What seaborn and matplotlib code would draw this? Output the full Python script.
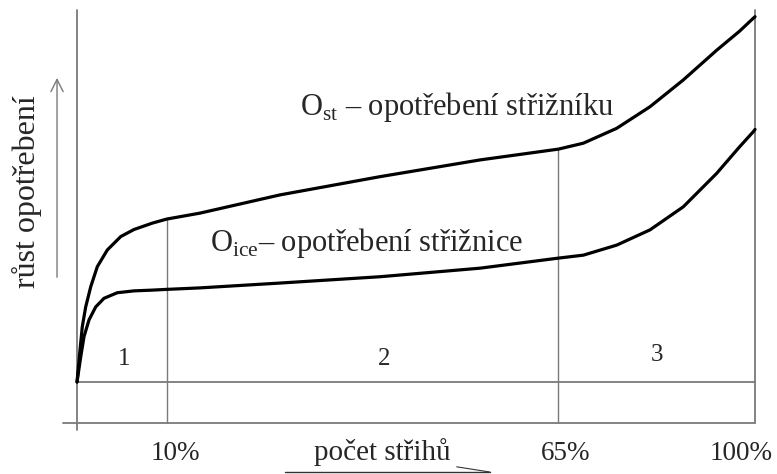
import matplotlib
matplotlib.use("Agg")
import matplotlib.pyplot as plt
import seaborn as sns
import numpy as np
import pandas as pd

# poloha na ose x (0 = počátek, 100 = konec osy)
x_st = [0, 0.44, 0.78, 1.28, 2.02, 2.99, 4.47, 6.45, 8.41, 11.09, 13.23, 18.14,
        29.94, 44.69, 59.44, 70.99, 74.68, 79.60, 84.51, 89.42, 94.35, 97.71,
        99.75, 100]
y_st = [0, 8.6, 14.9, 20.2, 25.6, 31.0, 35.5, 39.1, 41.0, 42.7, 43.8, 45.4,
        50.3, 55.2, 59.7, 62.6, 64.2, 68.2, 74.0, 81.2, 89.2, 94.3,
        97.8, 98.2]

x_ice = [0, 0.55, 1.03, 1.77, 2.76, 3.98, 5.94, 8.41, 11.09, 13.23, 18.14,
         29.94, 44.69, 59.44, 70.99, 74.68, 79.60, 84.51, 89.42, 94.35, 97.71,
         99.75, 100]
y_ice = [0, 6.8, 12.2, 16.7, 20.2, 22.5, 24.0, 24.5, 24.7, 24.9, 25.3,
         26.6, 28.3, 30.6, 33.3, 34.1, 36.8, 40.9, 47.1, 56.1, 63.2,
         67.3, 67.9]

# hranice oblastí a popisky
hranice = [13.23, 70.99, 100]
hranice_top = [43.8, 62.6, 100]
tick_pos = [14.5, 72.0, 98.0]
tick_labels = ["10%", "65%", "100%"]
oblasti = ["1", "2", "3"]
oblasti_x = [6.9, 45.3, 85.5]
oblasti_y = [6.2, 6.2, 7.3]

df = pd.concat([
    pd.DataFrame({"x": x_st, "y": y_st, "krivka": "st"}),
    pd.DataFrame({"x": x_ice, "y": y_ice, "krivka": "ice"}),
])

sns.set_theme(style="white")
plt.rcParams["font.family"] = ["Liberation Serif", "DejaVu Serif"]
plt.rcParams["mathtext.fontset"] = "custom"
plt.rcParams["mathtext.rm"] = "Liberation Serif"

fig = plt.figure(figsize=(7.77, 4.74), dpi=100)
ax = fig.add_axes([0, 0, 1, 1])
ax.set_xlim(-11.36, 103.24)
ax.set_ylim(-24.73, 102.69)
ax.axis("off")

seda = "#7a7a7a"
# osy a pomocné čáry
ax.plot([0, 0], [-12.9, 100], color=seda, lw=1.3)
ax.plot([-2.06, 100], [-11.0, -11.0], color=seda, lw=1.3)
ax.plot([0, 100], [0, 0], color=seda, lw=1.3)
for xb, yt in zip(hranice, hranice_top):
    ax.plot([xb, xb], [-11.0, yt], color=seda, lw=1.0 if xb < 100 else 1.3)

# křivky opotřebení
sns.lineplot(data=df, x="x", y="y", hue="krivka", palette=["black", "black"],
             estimator=None, sort=False, lw=2.3, legend=False, ax=ax,
             solid_joinstyle="round", solid_capstyle="round")

ax.text(32.9, 73.9, r"O$_{\rm st}$ – opotřebení střižníku", fontsize=22,
        ha="left", va="center")
ax.text(19.6, 37.4, r"O$_{\rm ice}$– opotřebení střižnice", fontsize=22,
        ha="left", va="center")

for xo, yo, t in zip(oblasti_x, oblasti_y, oblasti):
    ax.text(xo, yo, t, fontsize=18, ha="center", va="center")

for xp, t in zip(tick_pos, tick_labels):
    ax.text(xp, -19.1, t, fontsize=19.5, ha="center", va="center")

# popisek osy y se šipkou
ax.text(-7.37, 51.3, "růst opotřebení", fontsize=23, rotation=90,
        ha="center", va="center")
ax.annotate("", xy=(-2.95, 82.5), xytext=(-2.95, 27.4),
            arrowprops=dict(arrowstyle="->", color=seda, lw=1.0,
                            mutation_scale=22))

# popisek osy x se šipkou
ax.text(45.0, -18.9, "počet střihů", fontsize=21, ha="center", va="center")
ax.plot([30.7, 60.9], [-24.2, -24.2], color="#333333", lw=1.0)
ax.plot([56.0, 60.9], [-22.8, -24.2], color="#333333", lw=0.8)

fig.savefig("out.png", dpi=100)
